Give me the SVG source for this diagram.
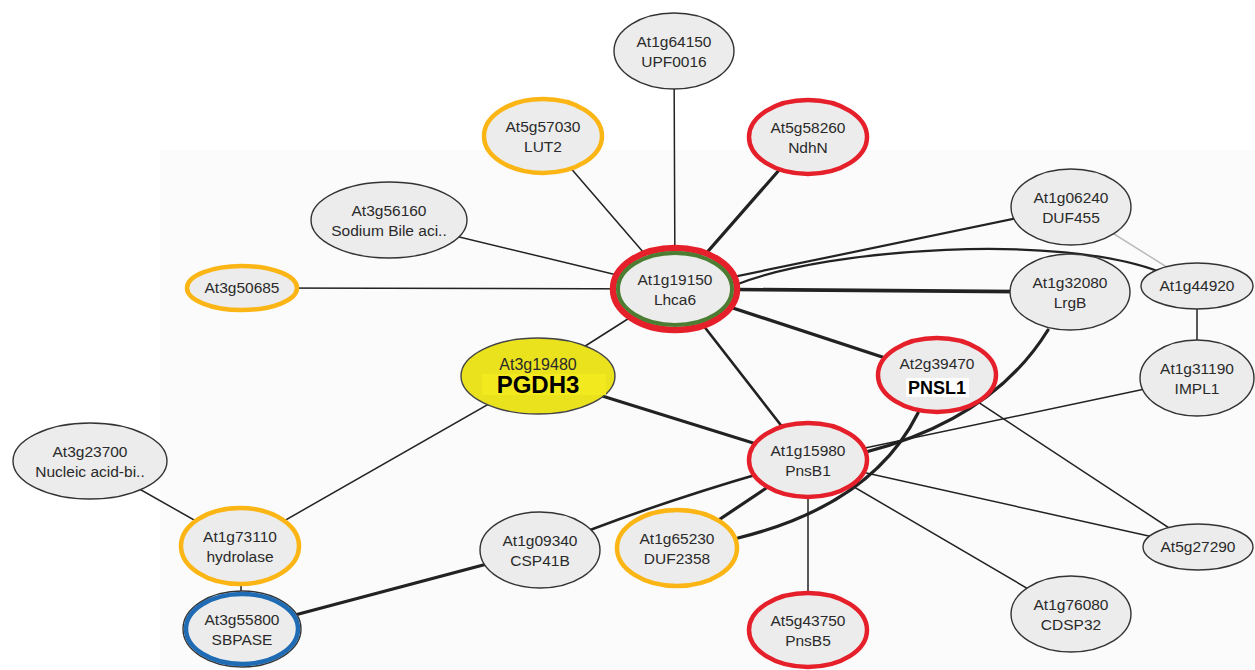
<svg xmlns="http://www.w3.org/2000/svg" width="1255" height="670" viewBox="0 0 1255 670">
<style>
.e{stroke:#222;fill:none;stroke-linecap:round}
.t1{stroke-width:1.5}
.t2{stroke-width:2.2}
.t3{stroke-width:3.2}
.n{fill:#ececec;stroke:#333;stroke-width:1.4}
.ring{fill:none;stroke-width:4.5}
.red{stroke:#e5202a}
.org{stroke:#fbb514}
.blu{stroke:#1f6cb5}
.grn{stroke:#4c7d32}
text{font-family:"Liberation Sans",Arial,sans-serif;font-size:15.5px;fill:#2a2a2a;text-anchor:middle}
.b{font-weight:bold;fill:#000}
</style>
<rect width="1255" height="670" fill="#ffffff"/>
<rect x="160" y="150" width="1095" height="520" fill="#fbfbfb"/>
<g id="connectors">
<line class="e t1" x1="675" y1="289" x2="674" y2="51"/>
<line class="e t1" x1="675" y1="289" x2="543" y2="136"/>
<line class="e t3" x1="675" y1="289" x2="808" y2="137"/>
<line class="e t1" x1="675" y1="289" x2="389" y2="220"/>
<line class="e t1" x1="675" y1="289" x2="242" y2="288"/>
<line class="e t2" x1="675" y1="289" x2="1071" y2="207"/>
<path class="e t2" d="M738,284 C830,248 1060,233 1160,272"/>
<line class="e t1" x1="1071" y1="207" x2="1197" y2="286" style="stroke:#bbb"/>
<line class="e t3" x1="675" y1="289" x2="1070" y2="292" style="stroke-width:3.6"/>
<line class="e t3" x1="675" y1="289" x2="937" y2="375"/>
<line class="e t2" x1="675" y1="289" x2="808" y2="460" style="stroke-width:2.6"/>
<line class="e t1" x1="675" y1="289" x2="538" y2="376"/>
<line class="e t1" x1="1197" y1="286" x2="1197" y2="378"/>
<line class="e t3" x1="538" y1="376" x2="808" y2="460"/>
<line class="e t1" x1="538" y1="376" x2="240" y2="546"/>
<line class="e t1" x1="90" y1="461" x2="240" y2="546"/>
<line class="e t1" x1="240" y1="546" x2="242" y2="629"/>
<line class="e t3" x1="242" y1="629" x2="540" y2="550"/>
<path class="e t2" d="M540,550 Q660,500 808,460" style="stroke-width:2.6"/>
<line class="e t3" x1="677" y1="548" x2="808" y2="460"/>
<path class="e t3" d="M918,413 Q872,505 738,538"/>
<path class="e t3" d="M1048,330 Q993,419 866,452"/>
<line class="e t1" x1="937" y1="375" x2="1198" y2="547"/>
<line class="e t1" x1="808" y1="460" x2="1197" y2="378"/>
<line class="e t1" x1="808" y1="460" x2="1198" y2="547"/>
<line class="e t1" x1="808" y1="460" x2="1071" y2="614"/>
<line class="e t1" x1="808" y1="460" x2="808" y2="630"/>
</g>
<g id="n_At1g64150"><ellipse class="n" cx="674" cy="51" rx="60" ry="38"/><text x="674" y="47">At1g64150</text><text x="674" y="67">UPF0016</text></g>
<g id="n_At5g57030"><ellipse class="n" cx="543" cy="136" rx="59" ry="37"/><ellipse class="ring org" cx="543" cy="136" rx="59" ry="37"/><text x="543" y="132">At5g57030</text><text x="543" y="152">LUT2</text></g>
<g id="n_At5g58260"><ellipse class="n" cx="808" cy="137" rx="59" ry="37"/><ellipse class="ring red" cx="808" cy="137" rx="59" ry="37"/><text x="808" y="133">At5g58260</text><text x="808" y="153">NdhN</text></g>
<g id="n_At3g56160"><ellipse class="n" cx="389" cy="220" rx="78" ry="38"/><text x="389" y="216">At3g56160</text><text x="389" y="236">Sodium Bile aci..</text></g>
<g id="n_At3g50685"><ellipse class="n" cx="242" cy="288" rx="55" ry="22"/><ellipse class="ring org" cx="242" cy="288" rx="55" ry="22"/><text x="242" y="293">At3g50685</text></g>
<g id="n_At1g19150"><ellipse class="n" cx="675" cy="289" rx="62" ry="41"/><ellipse class="ring red" cx="675" cy="289" rx="62" ry="41" style="stroke-width:6.5"/><ellipse class="ring grn" cx="675" cy="289" rx="57" ry="36" style="stroke-width:4"/><text x="675" y="285">At1g19150</text><text x="675" y="305">Lhca6</text></g>
<g id="n_At1g06240"><ellipse class="n" cx="1071" cy="207" rx="60" ry="38"/><text x="1071" y="203">At1g06240</text><text x="1071" y="223">DUF455</text></g>
<g id="n_At1g32080"><ellipse class="n" cx="1070" cy="292" rx="60" ry="38"/><text x="1070" y="288">At1g32080</text><text x="1070" y="308">LrgB</text></g>
<g id="n_At1g44920"><ellipse class="n" cx="1197" cy="286" rx="56" ry="23"/><text x="1197" y="291">At1g44920</text></g>
<g id="n_At1g31190"><ellipse class="n" cx="1197" cy="378" rx="57" ry="38"/><text x="1197" y="374">At1g31190</text><text x="1197" y="394">IMPL1</text></g>
<g id="n_At2g39470"><ellipse class="n" cx="937" cy="375" rx="59" ry="37"/><ellipse class="ring red" cx="937" cy="375" rx="59" ry="37"/><rect x="906" y="378" width="63" height="19" fill="#fff"/><text x="937" y="369">At2g39470</text><text class="b" x="937" y="394" style="font-size:18px">PNSL1</text></g>
<g id="n_At3g19480"><ellipse cx="538" cy="376" rx="77" ry="38" fill="#ebe21e" stroke="#444" stroke-width="1.4"/><rect x="482" y="374" width="124" height="21" fill="#f2ea1e"/><text x="538" y="370" style="font-size:16px">At3g19480</text><text class="b" x="538" y="393" style="font-size:24px">PGDH3</text></g>
<g id="n_At1g15980"><ellipse class="n" cx="808" cy="460" rx="59" ry="37"/><ellipse class="ring red" cx="808" cy="460" rx="59" ry="37"/><text x="808" y="456">At1g15980</text><text x="808" y="476">PnsB1</text></g>
<g id="n_At3g23700"><ellipse class="n" cx="90" cy="461" rx="77" ry="38"/><text x="90" y="457">At3g23700</text><text x="90" y="477">Nucleic acid-bi..</text></g>
<g id="n_At1g73110"><ellipse class="n" cx="240" cy="546" rx="59" ry="38"/><ellipse class="ring org" cx="240" cy="546" rx="59" ry="38"/><text x="240" y="542">At1g73110</text><text x="240" y="562">hydrolase</text></g>
<g id="n_At3g55800"><ellipse class="n" cx="242" cy="629" rx="59" ry="38"/><ellipse class="ring blu" cx="242" cy="629" rx="56" ry="35"/><text x="242" y="625">At3g55800</text><text x="242" y="645">SBPASE</text></g>
<g id="n_At1g09340"><ellipse class="n" cx="540" cy="550" rx="60" ry="38"/><text x="540" y="546">At1g09340</text><text x="540" y="566">CSP41B</text></g>
<g id="n_At1g65230"><ellipse class="n" cx="677" cy="548" rx="60" ry="38"/><ellipse class="ring org" cx="677" cy="548" rx="60" ry="38"/><text x="677" y="544">At1g65230</text><text x="677" y="564">DUF2358</text></g>
<g id="n_At5g43750"><ellipse class="n" cx="808" cy="630" rx="59" ry="37"/><ellipse class="ring red" cx="808" cy="630" rx="59" ry="37"/><text x="808" y="626">At5g43750</text><text x="808" y="646">PnsB5</text></g>
<g id="n_At5g27290"><ellipse class="n" cx="1198" cy="547" rx="55" ry="23"/><text x="1198" y="552">At5g27290</text></g>
<g id="n_At1g76080"><ellipse class="n" cx="1071" cy="614" rx="60" ry="38"/><text x="1071" y="610">At1g76080</text><text x="1071" y="630">CDSP32</text></g>
</svg>
